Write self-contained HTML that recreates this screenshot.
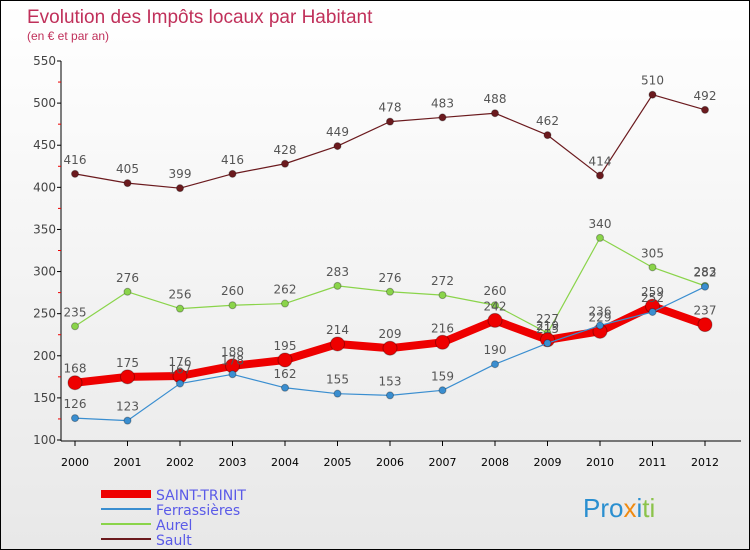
<!DOCTYPE html>
<html><head><meta charset="utf-8"><style>
body{margin:0}
#c{position:relative;width:748px;height:548px;border:1px solid #000;background:linear-gradient(#fff,#e8e8e8);font-family:"DejaVu Sans","Liberation Sans",sans-serif;overflow:hidden}
svg text{font-family:"DejaVu Sans","Liberation Sans",sans-serif}
</style></head><body>
<div id="c">
<svg id="s" width="748" height="548">
<text x="26" y="22" font-size="19" fill="#c0305a" style="font-family:'Liberation Sans',sans-serif">Evolution des Impôts locaux par Habitant</text>
<text x="26" y="39" font-size="12" fill="#c0305a" style="font-family:'Liberation Sans',sans-serif">(en € et par an)</text>
<text x="582" y="516" font-size="26" fill="#2a8fd0" style="font-family:'Liberation Sans',sans-serif">Pro<tspan fill="#f08a10">x</tspan>i<tspan fill="#8bc34a">ti</tspan></text>
</svg>
</div>
<script>
const years=[2000,2001,2002,2003,2004,2005,2006,2007,2008,2009,2010,2011,2012];
const yTicks=[100,150,200,250,300,350,400,450,500,550];
const saintTrinit=[168,175,176,188,195,214,209,216,242,219,229,259,237];
const ferrassieres=[126,123,167,178,162,155,153,159,190,215,236,252,282];
const aurel=[235,276,256,260,262,283,276,272,260,227,340,305,283];
const sault=[416,405,399,416,428,449,478,483,488,462,414,510,492];
const NS="http://www.w3.org/2000/svg",s=document.getElementById('s');
const X=i=>74+i*52.5, Y=v=>439-(v-100)*(379/450);
function mk(t,a,p){const e=document.createElementNS(NS,t);for(const k in a)e.setAttribute(k,a[k]);(p||s).appendChild(e);return e;}
let e;
e=mk('line',{x1:60,y1:60,x2:60,y2:440,stroke:'#000'});


e=mk('line',{x1:60,y1:440,x2:740,y2:440,stroke:'#000'});


yTicks.forEach((v,i)=>{
 mk('line',{x1:56,y1:Y(v),x2:60,y2:Y(v),stroke:'#000'});
 if(i<yTicks.length-1) mk('line',{x1:57,y1:Y(v+25),x2:60,y2:Y(v+25),stroke:'#e00'});
 e=mk('text',{x:55,y:Y(v)+4,'font-size':12,'text-anchor':'end',fill:'#444'});e.textContent=v;
 
 
});
years.forEach((y,i)=>{
 mk('line',{x1:X(i),y1:440,x2:X(i),y2:445,stroke:'#000'});
 e=mk('text',{x:X(i),y:465,'font-size':11,'text-anchor':'middle',fill:'#000'});e.textContent=y;
 
 
});
function series(d,col,w,r,name){
 const g=mk('g',{});
 
 
 mk('polyline',{points:d.map((v,i)=>X(i)+','+Y(v)).join(' '),fill:'none',stroke:col,'stroke-width':w,'stroke-linejoin':'round'},g);
 d.forEach((v,i)=>{
  const c=mk('circle',{cx:X(i),cy:Y(v),r:r,fill:col,stroke:'rgba(0,0,0,0.3)'},g);
  
  
  const t=mk('text',{x:X(i),y:Y(v)-10,'font-size':12,'text-anchor':'middle',fill:'#555'},g);t.textContent=v;
  
  
 });
}
series(sault,'#6b1a1e',1.2,3.5,'sault');
series(aurel,'#8ad44a',1.2,3.5,'aurel');
series(saintTrinit,'#ee0000',8,7,'saint-trinit');
series(ferrassieres,'#3a8ed0',1.2,3.5,'ferrassieres');
const leg=[['SAINT-TRINIT','#ee0000',8],['Ferrassières','#3a8ed0',2],['Aurel','#8ad44a',2],['Sault','#6b1a1e',2]];
leg.forEach((l,i)=>{
 const y=493+i*15;
 e=mk('line',{x1:100,y1:y,x2:150,y2:y,stroke:l[1],'stroke-width':l[2]});
 
 
 e=mk('text',{x:155,y:y+6,'font-size':14,fill:'#5a5ae8'});e.textContent=l[0];
 
 
});
</script>
</body></html>
